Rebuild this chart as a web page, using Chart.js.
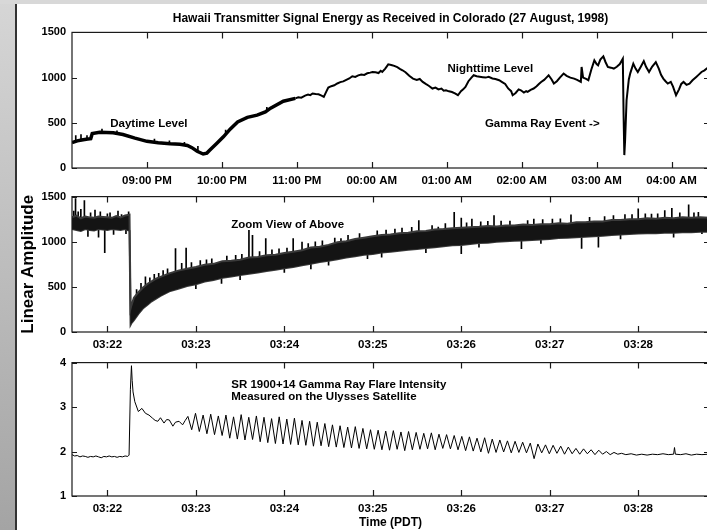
<!DOCTYPE html>
<html>
<head>
<meta charset="utf-8">
<script src="https://cdn.jsdelivr.net/npm/chart.js@4.4.0/dist/chart.umd.min.js"></script>
<style>
  html, body { margin: 0; padding: 0; background: #fff; }
  body { width: 707px; height: 530px; overflow: hidden; position: relative; }
  #strip { position: absolute; left: 0; top: 0; width: 15px; height: 530px; background: linear-gradient(to bottom, #d6d6d6, #a4a4a4); }
  #topstrip { position: absolute; left: 0; top: 0; width: 707px; height: 4px; background: #d8d8d8; }
  #edge { position: absolute; left: 15px; top: 4px; width: 2px; height: 526px; background: #333; }
  canvas { position: absolute; left: 16px; }
</style>
</head>
<body>
<div id="strip"></div>
<div id="topstrip"></div>
<div id="edge"></div>
<canvas id="signal" width="700" height="186" style="top:4px"></canvas>
<canvas id="zoom" width="700" height="172" style="top:184px"></canvas>
<canvas id="flare" width="700" height="180" style="top:350px"></canvas>
<script>
// tick values
const hourTicks = [21, 22, 23, 24, 25, 26, 27, 28];
const minuteTicks = [22, 23, 24, 25, 26, 27, 28];
const amplitudeTicks = [0, 500, 1000, 1500];
const flareTicks = [1, 2, 3, 4];

// top panel: hours (24+ = after midnight) and received level
const signalHours = [20.00, 20.07, 20.13, 20.21, 20.25, 20.27, 20.37, 20.55, 20.68, 20.84, 21.00, 21.15, 21.31, 21.44, 21.54, 21.60, 21.67, 21.75, 21.80, 21.84,
  21.93, 22.02, 22.11, 22.21, 22.34, 22.47, 22.58, 22.65, 22.82,
  22.98, 23.02, 23.06, 23.11, 23.15, 23.18, 23.21, 23.25, 23.29, 23.33, 23.36, 23.39, 23.42, 23.46, 23.50, 23.54, 23.58, 23.62, 23.66, 23.70,
  23.74, 23.78, 23.82, 23.86, 23.90, 23.94, 23.98, 24.01, 24.05, 24.09, 24.12, 24.14, 24.18, 24.22, 24.26, 24.30, 24.34, 24.38, 24.41, 24.45,
  24.50, 24.55, 24.60, 24.64, 24.68, 24.72, 24.76, 24.81, 24.85, 24.89, 24.93, 24.96, 24.99, 25.03, 25.07, 25.11, 25.15, 25.19, 25.22, 25.25,
  25.29, 25.33, 25.36, 25.40, 25.44, 25.48, 25.52, 25.56, 25.61, 25.65, 25.70, 25.74, 25.78, 25.82, 25.86, 25.88, 25.92, 25.96, 25.99, 26.03,
  26.06, 26.08, 26.12, 26.16, 26.20, 26.23, 26.26, 26.30, 26.33, 26.36, 26.40, 26.43, 26.47, 26.51, 26.56, 26.60, 26.65, 26.70, 26.74, 26.79,
  26.80, 26.82, 26.86, 26.89, 26.93, 26.97, 27.00, 27.02, 27.05, 27.09, 27.12, 27.15, 27.19, 27.23, 27.27, 27.31, 27.35, 27.36, 27.37, 27.38,
  27.40, 27.43, 27.45, 27.49, 27.52, 27.55, 27.59, 27.63, 27.66, 27.70, 27.74, 27.79, 27.83, 27.86, 27.89, 27.92, 27.95, 27.99, 28.02, 28.06,
  28.10, 28.13, 28.16, 28.20, 28.24, 28.28, 28.33, 28.36, 28.40, 28.44, 28.47, 28.50];
const signalLevels = [280, 300, 310, 320, 325, 380, 395, 390, 370, 330, 295, 280, 268, 262, 250, 225, 185, 155, 165, 198,
  270, 345, 430, 510, 560, 585, 620, 662, 739,
  770, 782, 778, 800, 812, 806, 824, 818, 815, 800, 787, 840, 890, 905, 915, 935, 950, 958, 975, 990,
  1015, 1008, 1025, 1035, 1030, 1048, 1055, 1062, 1058, 1050, 1075, 1062, 1100, 1147, 1140, 1130, 1115, 1095, 1081, 1060,
  1020, 989, 975, 985, 952, 930, 910, 879, 890, 870, 878, 855, 860, 848, 840, 825, 805, 850, 870, 897,
  960, 1000, 1026, 1015, 1010, 1005, 1000, 1008, 990, 985, 971, 950, 930, 880, 850, 805, 830, 870, 860, 835,
  850, 842, 865, 879, 905, 930, 952, 975, 1000, 1026, 980, 934, 960, 1000, 1045, 1020, 1000, 989, 975, 952,
  1118, 1000, 985, 971, 1090, 1191, 1150, 1136, 1200, 1235, 1170, 1118, 1110, 1100, 1120, 1150, 1209, 600, 143, 300,
  750, 980, 1050, 1154, 1100, 1062, 1120, 1183, 1120, 1062, 1120, 1172, 1100, 1030, 989, 960, 934, 952, 900, 805,
  870, 930, 952, 920, 934, 970, 1007, 1030, 1062, 1080, 1100, 1118];
// short hair spikes on the daytime trace [hour, from, to]
const signalSpikes = [[20.05, 310, 360], [20.12, 320, 370], [20.20, 330, 360], [20.40, 400, 430], [20.60, 385, 410],
  [21.10, 285, 320], [21.30, 270, 300], [21.50, 255, 285], [21.68, 190, 240], [22.05, 380, 420], [22.60, 640, 670]];

// middle panel: minutes after 03:00, noise band edges
const zoomTimes = [21.60, 21.65, 21.70, 21.75, 21.80, 21.85, 21.90, 21.95, 22.00, 22.05, 22.10, 22.15, 22.20, 22.25, 22.262, 22.27,
  22.30, 22.35, 22.40, 22.45, 22.50, 22.55, 22.60, 22.70, 22.80, 22.90,
  23.0, 23.1, 23.2, 23.3, 23.4, 23.5, 23.6, 23.7, 23.8, 23.9, 24.0, 24.1, 24.2, 24.3, 24.4, 24.5, 24.6, 24.7, 24.8, 24.9,
  25.0, 25.1, 25.2, 25.3, 25.4, 25.5, 25.6, 25.7, 25.8, 25.9, 26.0, 26.1, 26.2, 26.3, 26.4, 26.5, 26.6, 26.7, 26.8, 26.9,
  27.0, 27.1, 27.2, 27.3, 27.4, 27.5, 27.6, 27.7, 27.8, 27.9, 28.0, 28.1, 28.2, 28.3, 28.4, 28.5, 28.6, 28.7, 28.8];
const zoomUpper = [1270, 1290, 1260, 1280, 1270, 1265, 1280, 1275, 1270, 1265, 1285, 1270, 1290, 1300, 260, 290,
  380, 440, 490, 530, 560, 590, 610, 650, 680, 700,
  720, 745, 755, 785, 790, 800, 825, 830, 850, 855, 875, 890, 905, 935, 945, 965, 995, 1005, 1030, 1045,
  1060, 1075, 1080, 1095, 1100, 1115, 1120, 1135, 1140, 1150, 1155, 1160, 1165, 1175, 1170, 1180, 1180, 1190, 1185, 1195,
  1195, 1205, 1200, 1215, 1215, 1225, 1225, 1240, 1240, 1250, 1250, 1260, 1255, 1265, 1260, 1270, 1265, 1270, 1265];
const zoomLower = [1140, 1130, 1120, 1140, 1130, 1125, 1140, 1135, 1130, 1140, 1135, 1130, 1140, 1120, 80, 95,
  130, 200, 260, 300, 340, 370, 400, 450, 480, 510,
  530, 560, 575, 600, 615, 630, 645, 660, 675, 690, 705, 720, 740, 755, 775, 790, 805, 825, 840, 855,
  865, 880, 890, 900, 910, 920, 930, 940, 950, 960, 965, 975, 985, 990, 1000, 1005, 1010, 1015, 1020, 1025,
  1030, 1040, 1045, 1050, 1055, 1060, 1065, 1075, 1080, 1085, 1090, 1095, 1095, 1100, 1100, 1105, 1105, 1110, 1110];
// individual noise spikes [minute, from, to]
const zoomSpikes = [[21.62, 1280, 1340], [21.64, 1280, 1478], [21.67, 1280, 1330], [21.70, 1270, 1360], [21.74, 1280, 1456],
  [21.78, 1130, 1060], [21.81, 1280, 1320], [21.86, 1270, 1350], [21.90, 1140, 1050], [21.92, 1280, 1330], [21.97, 1130, 880],
  [22.00, 1280, 1310], [22.03, 1270, 1320], [22.07, 1130, 1080], [22.12, 1280, 1340], [22.16, 1280, 1300], [22.21, 1140, 1090],
  [22.24, 1290, 1330], [22.33, 400, 470], [22.38, 460, 540], [22.43, 520, 610], [22.48, 550, 600], [22.53, 580, 640],
  [22.58, 600, 650], [22.63, 625, 680], [22.68, 640, 700], [22.77, 670, 923], [22.84, 690, 760], [22.89, 700, 930],
  [22.95, 710, 770], [23.00, 530, 480], [23.05, 735, 790], [23.12, 745, 800], [23.18, 755, 810], [23.29, 600, 537],
  [23.35, 785, 840], [23.45, 795, 850], [23.50, 630, 580], [23.52, 805, 860], [23.60, 820, 1125], [23.64, 825, 1070],
  [23.72, 835, 890], [23.79, 845, 1036], [23.86, 850, 910], [23.94, 860, 920], [24.00, 705, 660], [24.03, 880, 930],
  [24.10, 890, 1036], [24.20, 905, 996], [24.27, 925, 980], [24.30, 755, 700], [24.35, 940, 1000], [24.43, 950, 1010],
  [24.50, 790, 739], [24.57, 985, 1040], [24.64, 995, 1036], [24.72, 1010, 1070], [24.85, 1035, 1090], [24.94, 855, 813],
  [25.05, 1065, 1120], [25.10, 880, 830], [25.15, 1075, 1130], [25.25, 1085, 1140], [25.33, 1095, 1150], [25.44, 1105, 1160],
  [25.52, 1115, 1235], [25.60, 930, 880], [25.67, 1130, 1180], [25.74, 1135, 1162], [25.82, 1140, 1200], [25.92, 1150, 1327],
  [26.00, 1155, 1261], [26.00, 965, 868], [26.06, 1160, 1210], [26.12, 1160, 1250], [26.20, 985, 940], [26.22, 1165, 1220],
  [26.30, 1175, 1225], [26.37, 1170, 1290], [26.45, 1175, 1230], [26.55, 1180, 1230], [26.68, 1015, 923], [26.75, 1185, 1235],
  [26.82, 1185, 1250], [26.90, 1025, 980], [26.92, 1195, 1245], [27.03, 1195, 1250], [27.12, 1205, 1255], [27.24, 1205, 1298],
  [27.36, 1055, 925], [27.45, 1220, 1270], [27.55, 1060, 941], [27.62, 1225, 1280], [27.72, 1240, 1290], [27.80, 1080, 1030],
  [27.85, 1245, 1300], [27.93, 1250, 1300], [28.00, 1250, 1364], [28.08, 1255, 1310], [28.15, 1255, 1305], [28.22, 1255, 1310],
  [28.30, 1265, 1345], [28.38, 1260, 1370], [28.40, 1100, 1050], [28.47, 1265, 1320], [28.57, 1265, 1408], [28.63, 1265, 1320],
  [28.68, 1270, 1327], [28.72, 1110, 1089]];

// bottom panel: Ulysses count rate
const flareEarlyTimes = [21.60, 21.63, 21.66, 21.69, 21.72, 21.75, 21.78, 21.81, 21.84, 21.87, 21.90, 21.93, 21.96, 21.99, 22.02,
  22.05, 22.08, 22.11, 22.14, 22.17, 22.20, 22.23, 22.245, 22.26, 22.272, 22.28, 22.29, 22.31, 22.35, 22.39, 22.43, 22.47,
  22.51, 22.54, 22.57, 22.60, 22.64, 22.67, 22.70, 22.74, 22.77, 22.81, 22.85, 22.88];
const flareEarlyValues = [1.93, 1.90, 1.91, 1.88, 1.90, 1.89, 1.87, 1.89, 1.88, 1.90, 1.88, 1.86, 1.89, 1.88, 1.90,
  1.88, 1.89, 1.87, 1.89, 1.88, 1.90, 1.89, 1.92, 3.40, 3.93, 3.60, 3.34, 3.12, 2.90, 2.97, 2.86, 2.82,
  2.75, 2.70, 2.68, 2.76, 2.64, 2.72, 2.71, 2.57, 2.66, 2.68, 2.60, 2.70];
// 5.16 s pulsation, sampled every half period (peak, trough, ...)
const pulseStart = 22.91;
const pulseStep = 0.043;
const pulseValues = [
  2.79, 2.49, 2.86, 2.45, 2.82, 2.40, 2.84, 2.38, 2.80, 2.36,
  2.82, 2.30, 2.78, 2.28, 2.83, 2.26, 2.77, 2.27, 2.80, 2.22,
  2.77, 2.20, 2.74, 2.18, 2.78, 2.17, 2.73, 2.16, 2.75, 2.15,
  2.70, 2.14, 2.68, 2.12, 2.66, 2.13, 2.63, 2.11, 2.60, 2.10,
  2.58, 2.09, 2.55, 2.08, 2.56, 2.07, 2.52, 2.06, 2.49, 2.05,
  2.48, 2.04, 2.46, 2.03, 2.47, 2.05, 2.44, 2.02, 2.45, 2.04,
  2.43, 2.05, 2.41, 2.06, 2.42, 2.04, 2.39, 2.07, 2.38, 2.06,
  2.36, 2.04, 2.34, 2.02, 2.33, 2.01, 2.30, 1.99, 2.31, 1.96,
  2.28, 1.98, 2.26, 1.99, 2.24, 1.97, 2.23, 1.98, 2.21, 1.97,
  2.19, 1.84, 2.17, 1.97, 2.15, 1.95, 2.14, 1.96, 2.12, 1.94,
  2.10, 1.95, 2.07, 1.94, 2.06, 1.95, 2.04, 1.93, 2.03, 1.94,
  2.00, 1.93, 1.98, 1.94, 1.96];
const flareTailTimes = [27.86, 27.92, 27.98, 28.04, 28.10, 28.16, 28.22, 28.28, 28.34, 28.40, 28.41, 28.42, 28.48, 28.54, 28.60, 28.66, 28.72, 28.80];
const flareTailValues = [1.93, 1.95, 1.92, 1.94, 1.92, 1.94, 1.93, 1.95, 1.93, 1.94, 2.09, 1.94, 1.93, 1.95, 1.92, 1.94, 1.93, 1.94];

Chart.defaults.font.family = '"Liberation Sans", Arial, Helvetica, sans-serif';
Chart.defaults.color = '#000';

const pairs = (xs, ys) => xs.map((x, i) => ({x: x, y: ys[i]}));
const spikeBars = list => list.map(s => ({x: s[0], y: [s[1], s[2]]}));
const pad2 = n => (n < 10 ? '0' : '') + n;
const hourLabel = v => {
  const pm = v < 24;
  return pad2(pm ? v - 12 : v - 24) + ':00 ' + (pm ? 'PM' : 'AM');
};
const minuteLabel = v => '03:' + pad2(v);

// box, inward ticks and text notes
function framePlugin(notes) {
  return {
    id: 'frame',
    afterDatasetsDraw(chart) {
      const ctx = chart.ctx, a = chart.chartArea, x = chart.scales.x, y = chart.scales.y;
      ctx.save();
      ctx.strokeStyle = '#1a1a1a';
      ctx.lineWidth = 1.2;
      ctx.strokeRect(a.left, a.top, a.right - a.left, a.bottom - a.top);
      ctx.beginPath();
      x.ticks.forEach(t => {
        const px = Math.round(x.getPixelForValue(t.value)) + 0.5;
        ctx.moveTo(px, a.bottom); ctx.lineTo(px, a.bottom - 6);
        ctx.moveTo(px, a.top); ctx.lineTo(px, a.top + 6);
      });
      y.ticks.forEach(t => {
        const py = Math.round(y.getPixelForValue(t.value)) + 0.5;
        ctx.moveTo(a.left, py); ctx.lineTo(a.left + 5, py);
        ctx.moveTo(a.right, py); ctx.lineTo(a.right - 5, py);
      });
      ctx.stroke();
      ctx.fillStyle = '#000';
      ctx.font = 'bold 11.5px "Liberation Sans", Arial, sans-serif';
      ctx.textBaseline = 'middle';
      ctx.textAlign = 'left';
      notes.forEach(n => ctx.fillText(n.text, x.getPixelForValue(n.x), y.getPixelForValue(n.y)));
      ctx.restore();
    }
  };
}

function panelOptions(o) {
  return {
    responsive: false,
    animation: false,
    events: [],
    layout: {padding: {top: o.padTop, right: 7, left: 0, bottom: 0}},
    plugins: {
      legend: {display: false},
      tooltip: {enabled: false},
      title: o.title || {display: false}
    },
    scales: {
      x: {
        type: 'linear',
        min: o.xMin,
        max: o.xMax,
        offset: false,
        grid: {display: false, drawTicks: false},
        border: {display: false},
        afterBuildTicks: s => { s.ticks = o.xTicks.map(v => ({value: v})); },
        afterFit: s => { s.height = o.xHeight; },
        ticks: {padding: 6, maxRotation: 0, autoSkip: false, font: {size: 11.5, weight: 'bold'}, callback: o.xLabel},
        title: o.xTitle || {display: false}
      },
      y: {
        min: o.yTicks[0],
        max: o.yTicks[o.yTicks.length - 1],
        grid: {display: false, drawTicks: false},
        border: {display: false},
        afterBuildTicks: s => { s.ticks = o.yTicks.map(v => ({value: v})); },
        afterFit: s => { s.width = 56; },
        ticks: {padding: 6, font: {size: 11, weight: 'bold'}, callback: v => String(v)},
        title: o.yTitle || {display: false}
      }
    }
  };
}

new Chart(document.getElementById('signal'), {
  type: 'line',
  data: {
    datasets: [{
      data: pairs(signalHours, signalLevels),
      borderColor: '#000',
      borderWidth: 2,
      pointRadius: 0,
      tension: 0,
      segment: {borderWidth: c => c.p0.parsed.x < 22.9 ? 3.5 : 2}
    }, {
      type: 'bar',
      data: spikeBars(signalSpikes),
      backgroundColor: '#000',
      barThickness: 1,
      grouped: false
    }]
  },
  options: panelOptions({
    padTop: 0, xMin: 20, xMax: 28.5, xTicks: hourTicks, xLabel: hourLabel, xHeight: 22,
    yTicks: amplitudeTicks,
    title: {
      display: true, fullSize: false,
      text: 'Hawaii Transmitter Signal Energy as Received in Colorado (27 August, 1998)',
      font: {size: 12, weight: 'bold'}, padding: {top: 7, bottom: 7}, color: '#000'
    }
  }),
  plugins: [framePlugin([
    {text: 'Daytime Level', x: 20.51, y: 485},
    {text: 'Nighttime Level', x: 25.01, y: 1092},
    {text: 'Gamma Ray Event ->', x: 25.51, y: 485}
  ])]
});

new Chart(document.getElementById('zoom'), {
  type: 'line',
  data: {
    datasets: [{
      data: pairs(zoomTimes, zoomUpper),
      borderColor: '#3a3a3a', borderWidth: 2, pointRadius: 0, tension: 0,
      fill: '+1', backgroundColor: '#141414'
    }, {
      data: pairs(zoomTimes, zoomLower),
      borderColor: '#3a3a3a', borderWidth: 2, pointRadius: 0, tension: 0
    }, {
      type: 'bar',
      data: spikeBars(zoomSpikes),
      backgroundColor: '#000',
      barThickness: 1,
      grouped: false
    }]
  },
  options: panelOptions({
    padTop: 12, xMin: 21.6, xMax: 28.8, xTicks: minuteTicks, xLabel: minuteLabel, xHeight: 24,
    yTicks: amplitudeTicks,
    yTitle: {display: true, text: 'Linear Amplitude', font: {size: 17, weight: 'bold'}, padding: {top: 2, bottom: 0}, color: '#000'}
  }),
  plugins: [framePlugin([
    {text: 'Zoom View of Above', x: 23.40, y: 1191}
  ])]
});

const flareData = pairs(flareEarlyTimes, flareEarlyValues)
  .concat(pulseValues.map((v, i) => ({x: pulseStart + i * pulseStep, y: v})))
  .concat(pairs(flareTailTimes, flareTailValues));

new Chart(document.getElementById('flare'), {
  type: 'line',
  data: {
    datasets: [{
      data: flareData,
      borderColor: '#000', borderWidth: 1, pointRadius: 0, tension: 0
    }]
  },
  options: panelOptions({
    padTop: 10, xMin: 21.6, xMax: 28.8, xTicks: minuteTicks, xLabel: minuteLabel, xHeight: 34,
    yTicks: flareTicks,
    xTitle: {display: true, text: 'Time (PDT)', font: {size: 12, weight: 'bold'}, padding: {top: 0, bottom: 0}, color: '#000'}
  }),
  plugins: [framePlugin([
    {text: 'SR 1900+14 Gamma Ray Flare Intensity', x: 23.40, y: 3.49},
    {text: 'Measured on the Ulysses Satellite', x: 23.40, y: 3.23}
  ])]
});
</script>
</body>
</html>
